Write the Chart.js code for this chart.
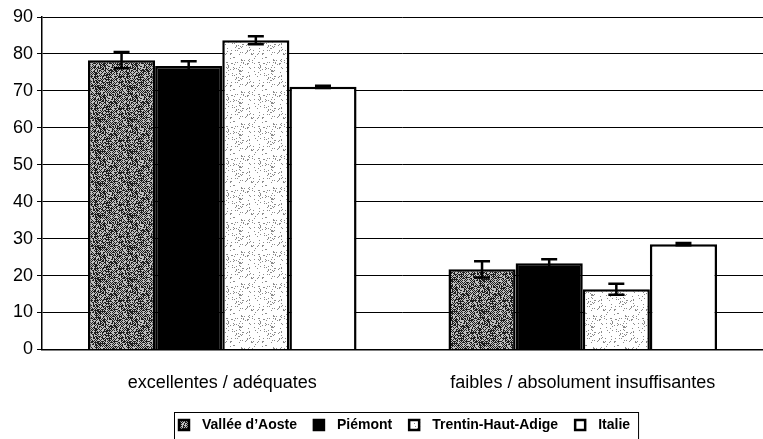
<!DOCTYPE html>
<html>
<head>
<meta charset="utf-8">
<script src="https://cdn.jsdelivr.net/npm/chart.js@4.4.1/dist/chart.umd.min.js"></script>
<style>
  body { margin: 0; background: #fff; }
  #wrap { width: 763px; height: 439px; }
</style>
</head>
<body>
<div id="wrap"><canvas id="barchart" width="763" height="439"></canvas></div>
<script>
const categories = ['excellentes / adéquates', 'faibles / absolument insuffisantes'];
const seriesNames = ['Vallée d’Aoste', 'Piémont', 'Trentin-Haut-Adige', 'Italie'];
const valleeValues = [78.3, 21.7];
const valleeErrors = [2.2, 2.2];
const piemontValues = [76.7, 23.3];
const piemontErrors = [1.3, 1.1];
const trentinValues = [83.7, 16.3];
const trentinErrors = [1.1, 1.5];
const italieValues = [71.1, 28.5];
const italieErrors = [0.3, 0.3];
const yTicks = [0, 10, 20, 30, 40, 50, 60, 70, 80, 90];

const FONT = 'Liberation Sans, Arial, Helvetica, sans-serif';

// stippled fill like the scanned print
function stipple(dark, light, share, checker) {
  const n = 32;
  const c = document.createElement('canvas');
  c.width = n; c.height = n;
  const g = c.getContext('2d');
  const img = g.createImageData(n, n);
  let s = 12345;
  for (let i = 0; i < n * n; i++) {
    s ^= s << 13; s ^= s >>> 17; s ^= s << 5;
    const h = ((s >>> 0) % 1000) / 1000;
    const x = i % n, y = Math.floor(i / n);
    let v;
    if (checker) v = ((x + y) % 2 === 0) ? (h < 0.8 ? dark : light) : (h < 0.25 ? dark : light);
    else v = h < share ? dark : light;
    img.data[i * 4] = v; img.data[i * 4 + 1] = v; img.data[i * 4 + 2] = v; img.data[i * 4 + 3] = 255;
  }
  g.putImageData(img, 0, 0);
  return g.createPattern(c, 'repeat');
}

const valleeFill = stipple(30, 190, 0.5, true);
const trentinFill = stipple(140, 255, 0.1, false);

const errors = [valleeErrors, piemontErrors, trentinErrors, italieErrors];

const errorBars = {
  id: 'errorBars',
  afterDatasetsDraw(chart) {
    const ctx = chart.ctx;
    const y = chart.scales.y;
    ctx.save();
    ctx.strokeStyle = '#000';
    ctx.lineWidth = 2.5;
    chart.data.datasets.forEach((ds, i) => {
      const meta = chart.getDatasetMeta(i);
      meta.data.forEach((bar, j) => {
        const v = ds.data[j], e = errors[i][j];
        const top = y.getPixelForValue(v + e);
        const bot = y.getPixelForValue(v - e);
        ctx.beginPath();
        ctx.moveTo(bar.x, top); ctx.lineTo(bar.x, bot);
        ctx.moveTo(bar.x - 8, top); ctx.lineTo(bar.x + 8, top);
        ctx.moveTo(bar.x - 8, bot); ctx.lineTo(bar.x + 8, bot);
        ctx.stroke();
      });
    });
    ctx.restore();
  }
};

// boxed legend under the axis, drawn by hand to get the spacing of the original
const boxLegend = {
  id: 'boxLegend',
  afterDraw(chart) {
    const ctx = chart.ctx;
    const box = 12, gap = 12, between = 16;
    const cy = 425;
    ctx.save();
    ctx.font = 'bold 14px ' + FONT;
    const widths = chart.data.datasets.map(d => ctx.measureText(d.label).width);
    const total = widths.reduce((a, w) => a + w + box + gap, 0) + between * (widths.length - 1);
    let x = Math.round(404 - total / 2);
    const left = x - 4;
    chart.data.datasets.forEach((d, i) => {
      ctx.fillStyle = d.backgroundColor;
      ctx.fillRect(x, cy - box / 2, box, box);
      ctx.strokeStyle = '#000';
      ctx.lineWidth = 2.5;
      ctx.strokeRect(x + 1, cy - box / 2 + 1, box - 2, box - 2);
      ctx.fillStyle = '#000';
      ctx.textBaseline = 'middle';
      ctx.fillText(d.label, x + box + gap, cy);
      x += box + gap + widths[i] + between;
    });
    const right = x - between + 8;
    ctx.strokeStyle = '#000';
    ctx.lineWidth = 1;
    ctx.strokeRect(left + 0.5, 412.5, right - left, 40);
    ctx.restore();
  }
};

const ctx = document.getElementById('barchart');

new Chart(ctx, {
  type: 'bar',
  data: {
    labels: categories,
    datasets: [
      { label: seriesNames[0], data: valleeValues, backgroundColor: valleeFill },
      { label: seriesNames[1], data: piemontValues, backgroundColor: '#000' },
      { label: seriesNames[2], data: trentinValues, backgroundColor: trentinFill },
      { label: seriesNames[3], data: italieValues, backgroundColor: '#fff' }
    ].map(d => Object.assign(d, {
      borderColor: '#000',
      borderWidth: 2.5,
      categoryPercentage: 0.745,
      barPercentage: 1
    }))
  },
  options: {
    responsive: false,
    animation: false,
    layout: { padding: { left: 9, right: 0, top: 17, bottom: 22 } },
    plugins: {
      tooltip: { enabled: false },
      legend: { display: false }
    },
    scales: {
      x: {
        grid: { display: false, drawTicks: false },
        border: { display: true, color: '#000', width: 1.5 },
        ticks: {
          color: '#000',
          padding: 23,
          font: { family: FONT, size: 18 }
        }
      },
      y: {
        min: 0,
        max: 90,
        afterBuildTicks(axis) { axis.ticks = yTicks.map(v => ({ value: v })); },
        grid: { color: '#000', lineWidth: 1, tickLength: 5 },
        border: { display: true, color: '#000', width: 1.5 },
        ticks: {
          color: '#000',
          padding: 4,
          font: { family: FONT, size: 18 }
        }
      }
    }
  },
  plugins: [errorBars, boxLegend]
});
</script>
</body>
</html>
